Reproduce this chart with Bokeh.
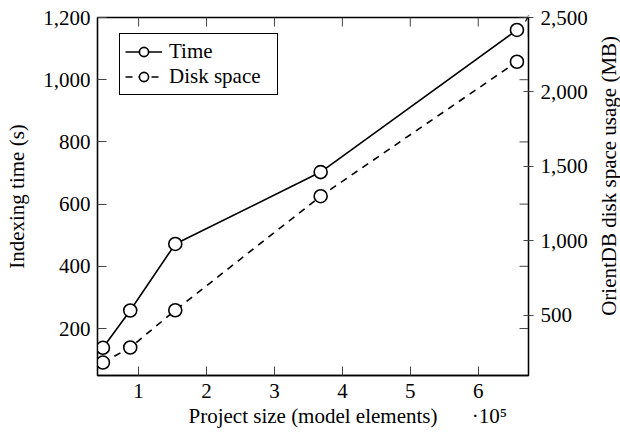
import math
from bokeh.plotting import figure
from bokeh.layouts import row
from bokeh.models import (LinearAxis, Range1d, FixedTicker, NumeralTickFormatter,
                          Legend, LegendItem, Arrow, OpenHead, Label)
from bokeh.embed import file_html
from bokeh.resources import INLINE

# ---- data (project size in units of 10^5 model elements) ----
project_size = [0.475, 0.877, 1.54, 3.68, 6.57]
index_time = [138, 258, 472, 703, 1160]          # seconds
disk_space = [183, 284, 534, 1300, 2203]          # MB
x_ticks = [1, 2, 3, 4, 5, 6]
time_ticks = [200, 400, 600, 800, 1000, 1200]
disk_ticks = [500, 1000, 1500, 2000, 2500]
x_title = "Project size (model elements)"
x_multiplier = "·10⁵"
left_title = "Indexing time (s)"
right_title = "OrientDB disk space usage (MB)"

FONT = "Liberation Serif"
FS = "21px"

X0, X1 = 0.395, 6.74
Y0, Y1 = 49, 1200
D0, D1 = 96, 2500

TITLE_W = 24
W, H = 620 - TITLE_W, 434
ML, MR, MT, MB = 97, W - 528, 17, 59
FW, FH = W - ML - MR, H - MT - MB

p = figure(width=W, height=H, output_backend="svg", toolbar_location=None,
           x_range=Range1d(X0, X1), y_range=Range1d(Y0, Y1),
           min_border_left=ML, min_border_right=MR, min_border_top=MT, min_border_bottom=MB,
           x_axis_location=None, y_axis_location=None)
p.extra_y_ranges = {"disk": Range1d(D0, D1)}
p.xgrid.grid_line_color = None
p.ygrid.grid_line_color = None
p.outline_line_color = "black"
p.outline_line_width = 1.3
p.outline_line_alpha = 1.0
p.background_fill_color = "white"
p.border_fill_color = "white"

TICK_COLOR = "#444444"


def style(ax, tick_in, tick_out, standoff=7):
    ax.axis_line_color = "black"
    ax.axis_line_width = 1.3
    ax.major_tick_line_color = TICK_COLOR
    ax.major_tick_line_width = 1
    ax.major_tick_in = tick_in
    ax.major_tick_out = tick_out
    ax.minor_tick_line_color = None
    ax.major_label_text_font = FONT
    ax.major_label_text_color = "black"
    ax.major_label_standoff = standoff
    ax.major_label_text_font_size = FS
    ax.axis_label_text_font = FONT
    ax.axis_label_text_font_size = FS
    ax.axis_label_text_font_style = "normal"
    ax.axis_label_text_color = "black"


# bottom axis with ticks 1..6
xb = LinearAxis(ticker=FixedTicker(ticks=x_ticks))
style(xb, 9, 0, standoff=8)
p.add_layout(xb, "below")

# second row below: axis title and the x10^5 multiplier
x_mid = (X0 + X1) / 2
x_mult_pos = X0 + (489 - ML) * (X1 - X0) / FW
xb2 = LinearAxis(ticker=FixedTicker(ticks=[x_mid, x_mult_pos]),
                 major_label_overrides={x_mid: x_title, x_mult_pos: x_multiplier})
style(xb2, 0, 0, standoff=3)
xb2.axis_line_color = None
xb2.major_tick_line_color = None
p.add_layout(xb2, "below")

# left axis
yl = LinearAxis(ticker=FixedTicker(ticks=time_ticks), formatter=NumeralTickFormatter(format="0,0"),
                axis_label=left_title)
style(yl, 9, 0, standoff=7)
yl.axis_label_standoff = 11
p.add_layout(yl, "left")

# right axis (disk space)
yr = LinearAxis(y_range_name="disk", ticker=FixedTicker(ticks=disk_ticks),
                formatter=NumeralTickFormatter(format="0,0"))
style(yr, 5, 5, standoff=7)
p.add_layout(yr, "right")

# mirrored tick marks on top and right frame edges (from the tick lists)
px_x = FW / (X1 - X0)
px_y = FH / (Y1 - Y0)
px_d = FH / (D1 - D0)
p.segment(x0=x_ticks, x1=x_ticks, y0=[Y1] * len(x_ticks), y1=[Y1 - 9 / px_y] * len(x_ticks),
          line_color=TICK_COLOR, line_width=1)
p.segment(x0=[X1] * len(time_ticks), x1=[X1 - 9 / px_x] * len(time_ticks),
          y0=time_ticks, y1=time_ticks, line_color=TICK_COLOR, line_width=1)

# ---- series ----
tl = p.line(project_size, index_time, line_color="black", line_width=1.6)
dl = p.line(project_size, disk_space, y_range_name="disk", line_color="black",
            line_width=1.6, line_dash="7 6")
ts = p.scatter(project_size, index_time, marker="circle", size=13, fill_color="white",
               line_color="black", line_width=1.6)
ds = p.scatter(project_size, disk_space, marker="circle", size=13, fill_color="white",
               line_color="black", line_width=1.6, y_range_name="disk")

legend = Legend(items=[LegendItem(label="Time", renderers=[tl, ts]),
                       LegendItem(label="Disk space", renderers=[dl, ds])],
                location=(22, 280), orientation="vertical")
legend.border_line_color = "black"
legend.border_line_width = 1
legend.border_line_alpha = 1
legend.background_fill_color = "white"
legend.background_fill_alpha = 1
legend.label_text_font = FONT
legend.label_text_font_size = FS
legend.label_text_color = "black"
legend.glyph_width = 37
legend.glyph_height = 23
legend.label_height = 23
legend.spacing = 0
legend.padding = 5
legend.label_standoff = 7
legend.label_width = 103
legend.margin = 0
p.add_layout(legend, "center")

# arrow at top of right axis
p.add_layout(Arrow(end=OpenHead(size=6, line_width=1.2, line_color="black"),
                   x_start=X1, x_end=X1, y_start=D1 - 20 / px_d, y_end=D1 + 2 / px_d,
                   y_range_name="disk", line_color="black", line_width=1.3))

# ---- narrow strip holding the right axis title (reads bottom-to-top) ----
pt = figure(width=TITLE_W, height=H, output_backend="svg", toolbar_location=None,
            x_range=Range1d(0, 1), y_range=Range1d(0, 1), min_border=0,
            x_axis_location=None, y_axis_location=None)
pt.xgrid.grid_line_color = None
pt.ygrid.grid_line_color = None
pt.outline_line_color = None
pt.background_fill_color = "white"
pt.border_fill_color = "white"
pt.add_layout(Label(x=0.5, y=1 - 192 / H, text=right_title, angle=math.pi / 2,
                    text_font=FONT, text_font_size=FS, text_align="center",
                    text_baseline="middle", text_color="black"))

layout = row(p, pt, spacing=0)
open("out.html", "w").write(file_html(layout, INLINE))
